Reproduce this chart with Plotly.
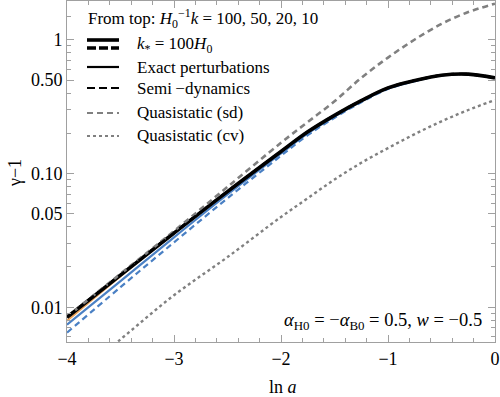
import plotly.graph_objects as go

# ---------------------------------------------------
# DATA  (gamma - 1 versus ln a)
# ---------------------------------------------------

ln_a = [-4, -3.5, -3, -2.5, -2, -1.75, -1.5, -1.25, -1, -0.75, -0.5, -0.25, 0]

exact_k100 = [0.00841, 0.01738, 0.03589, 0.07328, 0.1462, 0.2051, 0.2723, 0.3508, 0.4365, 0.4955, 0.5433, 0.5534, 0.5188]
semi_k100 = [0.00845, 0.01745, 0.03600, 0.07340, 0.1462, 0.2051, 0.2723, 0.3508, 0.4365, 0.4955, 0.5433, 0.5534, 0.5188]
exact_k50 = [0.00794, 0.01710, 0.03580, 0.07328, 0.1462, 0.2051, 0.2723, 0.3508, 0.4365, 0.4955, 0.5433, 0.5534, 0.5188]
exact_k20 = [0.00741, 0.01567, 0.03334, 0.06966, 0.1413, 0.1995, 0.2667, 0.3459, 0.4325, 0.4932, 0.5433, 0.5534, 0.5188]
exact_k10 = [0.00646, 0.01413, 0.03055, 0.06531, 0.1358, 0.1936, 0.2612, 0.3412, 0.4285, 0.4909, 0.5408, 0.5534, 0.5188]
quasi_sd = [0.00851, 0.01778, 0.03715, 0.07943, 0.1698, 0.2427, 0.3467, 0.5188, 0.7362, 1.005, 1.315, 1.611, 1.862]
quasi_cv = [0.00269, 0.00575, 0.0123, 0.02371, 0.04732, 0.06531, 0.09016, 0.1202, 0.1549, 0.1972, 0.2455, 0.2985, 0.3548]

y_ticks = [0.01, 0.05, 0.1, 0.5, 1]
y_tick_text = ['0.01', '0.05', '0.10', '0.50', '1']

legend_labels = [
    'Exact perturbations',
    'Semi\u2009\u2212dynamics',
    'Quasistatic (sd)',
    'Quasistatic (cv)',
]

FONT = 'Liberation Serif, Times New Roman, serif'
BLUE = '#4a80c4'
ORANGE = '#eda45a'
GRAY = '#808080'

# plot area in pixels
X0, X1, Y0, Y1 = 67, 495, 1, 342


def px(x):
    return (x - X0) / (X1 - X0)


def py(y):
    return (Y1 - y) / (Y1 - Y0)


fig = go.Figure()


def add_line(y, color, width, dash='solid'):
    fig.add_trace(go.Scatter(
        x=ln_a, y=y, mode='lines', line_shape='spline',
        line=dict(color=color, width=width, dash=dash),
        showlegend=False, hoverinfo='skip'))


add_line(exact_k50, ORANGE, 2.2)
add_line(exact_k10, BLUE, 2.2, '6px,4px')
add_line(exact_k20, BLUE, 2.2)
add_line(quasi_cv, GRAY, 2.4, '3px,3px')
add_line(exact_k100, 'black', 3.6)
add_line(quasi_sd, GRAY, 2.6, '6px,4px')
add_line(semi_k100, 'black', 2.6, '8px,5px')

# ---------------------------------------------------
# LEGEND (drawn by hand)
# ---------------------------------------------------

shapes = []


def sample(y, color, width, dash='solid'):
    shapes.append(dict(type='line', xref='paper', yref='paper',
                       x0=px(87), x1=px(119), y0=py(y), y1=py(y),
                       line=dict(color=color, width=width, dash=dash)))


sample(40, 'black', 3.6)
sample(48, 'black', 3.6, '9px,3px')
sample(67, 'black', 2.2)
sample(88, 'black', 2.2, '8px,4px')
sample(113, GRAY, 2.2, '6px,4px')
sample(136, GRAY, 2.2, '3px,3px')

annotations = []


def text(x, y, s, anchor='left', size=17, angle=0):
    annotations.append(dict(xref='paper', yref='paper', x=px(x), y=py(y),
                            text=s, showarrow=False, xanchor=anchor,
                            yanchor='middle', textangle=angle,
                            font=dict(family=FONT, size=size, color='black')))


text(86, 19, 'From top: <i>H</i><sub>0</sub><sup>\u22121</sup><i>k</i> = 100, 50, 20, 10')
text(135, 45, '<i>k</i><sub>*</sub> = 100<i>H</i><sub>0</sub>')
for lbl, yy in zip(legend_labels, [67, 88, 112, 135]):
    text(135, yy, lbl)

text(484, 321, '<i>\u03b1</i><sub>H0</sub> = \u2212<i>\u03b1</i><sub>B0</sub> = 0.5, <i>w</i> = \u22120.5',
     anchor='right', size=18.5)
text(283, 387, 'ln <i>a</i>', anchor='center', size=18)
text(15, 173, '\u03b3\u22121', anchor='center', size=18, angle=-90)

# ---------------------------------------------------
# LAYOUT
# ---------------------------------------------------

fig.update_layout(
    width=500, height=397,
    margin=dict(l=X0, r=500 - X1, t=Y0, b=397 - Y1),
    plot_bgcolor='white', paper_bgcolor='white',
    font=dict(family=FONT, size=18, color='black'),
    shapes=shapes, annotations=annotations,
    showlegend=False,
)

fig.update_xaxes(
    range=[-4, 0], dtick=1, tick0=0,
    showgrid=False, zeroline=False,
    showline=True, linecolor='#a0a0a0', linewidth=1, mirror='ticks',
    ticks='inside', ticklen=7, tickcolor='#a0a0a0',
    minor=dict(ticks='inside', dtick=0.2, ticklen=4, tickcolor='#a0a0a0', showgrid=False),
    tickfont=dict(family=FONT, size=18),
)

minor_vals = [0.006, 0.007, 0.008, 0.009, 0.02, 0.03, 0.04, 0.06, 0.07, 0.08, 0.09,
              0.2, 0.3, 0.4, 0.6, 0.7, 0.8, 0.9, 1.5]

fig.update_yaxes(
    type='log', range=[-2.26, 0.29],
    tickmode='array', tickvals=y_ticks, ticktext=y_tick_text,
    showgrid=False, zeroline=False,
    showline=True, linecolor='#a0a0a0', linewidth=1, mirror='ticks',
    ticks='inside', ticklen=7, tickcolor='#a0a0a0',
    minor=dict(ticks='inside', tickvals=minor_vals, ticklen=4, tickcolor='#a0a0a0', showgrid=False),
    tickfont=dict(family=FONT, size=18),
)

fig.write_html('out.html', config={'displayModeBar': False},
               post_script="document.body.style.margin='0px';")
